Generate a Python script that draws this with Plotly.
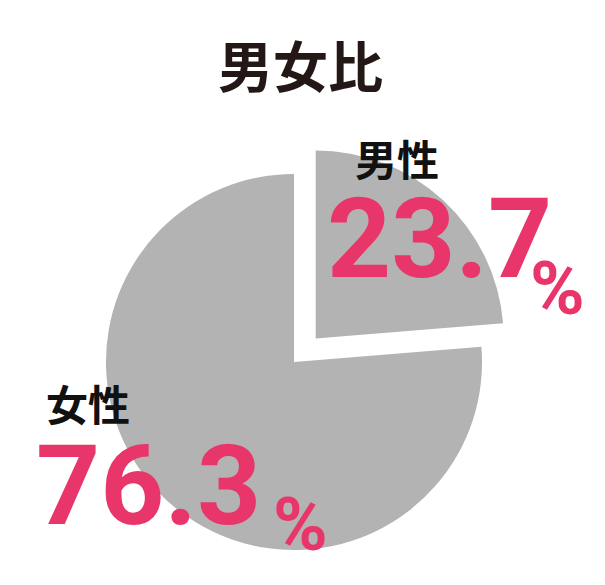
import plotly.graph_objects as go

# data
labels = ['男性', '女性']
values = [23.7, 76.3]
pulls = [0.17, 0]

W, H = 605, 585
GRAY = '#b3b3b3'
PINK = '#e8366b'
INK = '#231815'
JP = 'Noto Sans CJK JP'
NUM = 'Roboto'

fig = go.Figure(go.Pie(
    labels=labels, values=values, pull=pulls,
    sort=False, direction='clockwise', rotation=0,
    marker=dict(colors=[GRAY, GRAY], line=dict(width=0)),
    textinfo='none', hoverinfo='label+percent', showlegend=False,
    domain=dict(x=[74 / W, 514 / W], y=[3 / H, 443 / H]),
))


def px(x, y):
    return x / W, 1 - y / H


# label positions (pixels) for each slice: name, number, percent sign
spots = {
    '男性': [(397, 158), (439, 238), (557, 288)],
    '女性': [(88, 402), (148, 485), (300, 524)],
}


def note(x, y, text, font):
    x, y = px(x, y)
    return dict(x=x, y=y, text=text, showarrow=False, xref='paper', yref='paper',
                xanchor='center', yanchor='middle', borderpad=0, font=font)


anns = []
for lab, val in zip(labels, values):
    (nx, ny), (vx, vy), (sx, sy) = spots[lab]
    anns.append(note(nx, ny, lab, dict(family=JP, size=42, color='#111111', weight='bold')))
    anns.append(note(vx, vy, f'{val}', dict(family=NUM, size=112, color=PINK, weight='bold')))
    anns.append(note(sx, sy, '%', dict(family=NUM, size=74, color=PINK, weight='bold')))

anns.append(note(300, 63, '男女比', dict(family=JP, size=55, color=INK, weight='bold')))

fig.update_layout(
    width=W, height=H,
    margin=dict(l=0, r=0, t=0, b=0, autoexpand=False),
    paper_bgcolor='white', plot_bgcolor='white',
    annotations=anns,
)

# drop the browser's default page margin so the figure sits at the top-left corner
fig.write_html('out.html', config={'displayModeBar': False},
               post_script="document.body.style.margin='0';")
